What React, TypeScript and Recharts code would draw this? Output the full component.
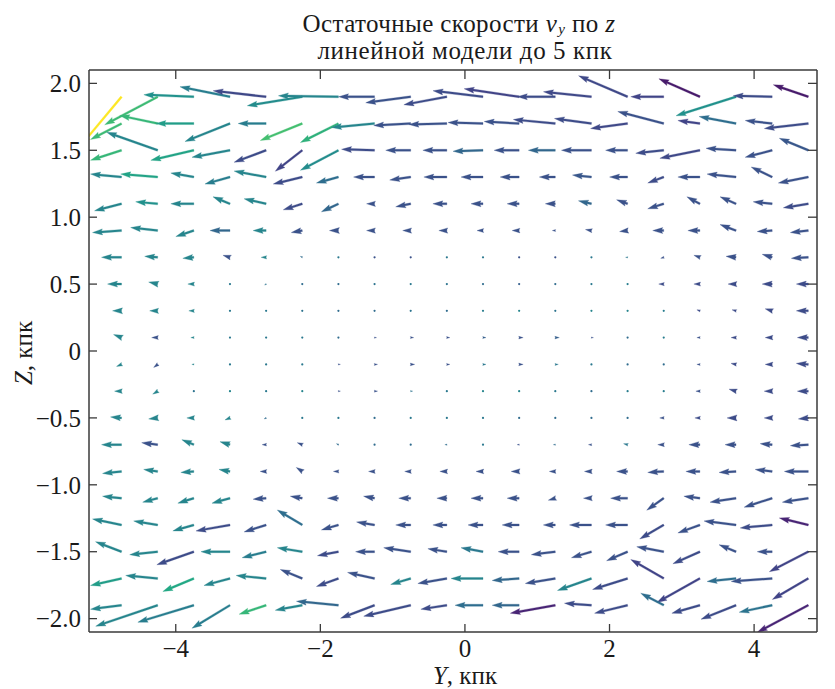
import React from 'react';
import { ScatterChart, Scatter, XAxis, YAxis, ReferenceLine, Customized } from 'recharts';

// ---- grid (Y columns, Z rows), kpc ----
const Y_COLS = [-4.75, -4.25, -3.75, -3.25, -2.75, -2.25, -1.75, -1.25, -0.75, -0.25, 0.25, 0.75, 1.25, 1.75, 2.25, 2.75, 3.25, 3.75, 4.25, 4.75];
const Z_ROWS = [1.9, 1.7, 1.5, 1.3, 1.1, 0.9, 0.7, 0.5, 0.3, 0.1, -0.1, -0.3, -0.5, -0.7, -0.9, -1.1, -1.3, -1.5, -1.7, -1.9];

// ---- residual velocity components (arbitrary units), one row per Z ----
const U_ROWS = [
  [-40, -53, -50, -50, -53, -55, -60, -36, -45, -43, -50, -55, -38, -48, -49, -33, -41, -60, -39, -35],
  [-31, -38, -38, -45, -28, -42, -38, -43, -37, -38, -35, -35, -42, -37, -37, -46, -22, -37, -27, -44],
  [-31, -51, -43, -38, -32, -27, -38, -33, -25, -24, -30, -25, -27, -30, -22, -28, -40, -30, -27, -29],
  [-31, -37, -23, -25, -32, -29, -22, -21, -21, -23, -22, -19, -16, -19, -18, -16, -22, -29, -21, -30],
  [-27, -22, -23, -17, -22, -19, -17, -8, -15, -14, -12, -12, -10, -13, -11, -16, -13, -16, -19, -25],
  [-29, -27, -18, -20, -13, -11, -9, -8, -8, -8, -6, -7, -3, -6, -8, -11, -12, -16, -15, -18],
  [-20, -13, -11, -7, -5, -2, -1, -1, -1, -1, -1, -1, -1, -1, -2, -3, -6, -10, -10, -17],
  [-14, -9, -6, -1, -1.5, -1, -1, -1, -1, -1, -1, -1, -1, -1, -1, -5, -6, -8, -10, -12],
  [-9, -8, -5, -1, -1, -1, 1, -1, -1, -1, -1, -1, -1, -1, -1, -1, -3, -4, -7, -12],
  [-8, -6, -3, -1, -1, -1, -1, 2, 3, 3, 3, 4, 4, 2, 1, -1, -3, -5, -7, -11],
  [-5, -4, -2, -1, -1, -1, 2, 3, 4, 3, 3, 4, 3, 1, -1, -1, -3, -5, -7, -12],
  [-7, -5, -1, -1, -1, -1, 2, 3, 2, 1, 1, 1, 1, 1, -1, -1, -4, -7, -8, -11],
  [-11, -9, -7, -5, -2, -1, -1, -1, -1, -1, -1, -1, -1, -1, -1, -4, -5, -9, -8, -10],
  [-20, -16, -12, -10, -4, -5, -2, -1, -1, -2, -1.5, -2, -2, -3, -4, -6, -11, -11, -12, -18],
  [-19, -14, -13, -11, -6, -6, -5, -6, -6, -7, -7, -8, -6, -7, -11, -16, -14, -17, -17, -24],
  [-19, -15, -16, -18, -13, -12, -11, -11, -12, -10, -12, -12, -7, -8, -17, -17, -16, -26, -28, -26],
  [-29, -24, -21, -34, -22, -25, -17, -18, -15, -14, -15, -17, -12, -22, -22, -24, -22, -32, -32, -29],
  [-26, -28, -37, -29, -24, -25, -21, -19, -27, -19, -22, -21, -24, -20, -21, -27, -27, -17, -15, -39],
  [-31, -32, -31, -26, -30, -22, -22, -27, -20, -29, -32, -27, -30, -34, -35, -33, -43, -29, -41, -36],
  [-31, -62, -56, -38, -27, -27, -42, -34, -47, -26, -28, -27, -45, -27, -33, -23, -28, -35, -33, -51],
];
const V_ROWS = [
  [-48, -28, 2, 10, 6, -9, 1, 0, -6, -8, 6, 8, 0, 5, 21, 0, 18, -19, 1, 12],
  [-16, 8, 0, -18, 0, -17, -19, -4, -2, -1, 1, 2, 4, 5, -5, 12, 3, 7, 3, -5],
  [-10, 18, -10, -7, -12, -21, -20, 1, 0, 0, -1, 0, 0, 0, 0, -3, -8, 2, -7, 12],
  [3, 3, 4, -7, 6, -7, -6, 0, -3, 0, 0, 0, 0, 2, 0, -6, 0, 3, 10, -6],
  [-7, 2, 0, 7, 5, -6, -8, 0, -3, 0, 0, 0, 0, 3, 4, -5, 7, 7, 2, -4],
  [-2, 3, -6, 0, 0, -2, 0, 0, 0, 0, 0, 0, 0, 1, -1, 0, 0, 6, -1, -2],
  [0, 1, -1, 2, 0, 1, 0, 0, 0, 0, 0, 0, 0, 0, 0, -1, 2, 1, 3, -1],
  [0, 2, 0, 0, -1, 0, 0, 0, 0, 0, 0, 0, 0, 0, 0, 0, 0, 0, 0, 0],
  [0, 0, 0, 0, 0, 0, 0, 0, 0, 0, 0, 0, 0, 0, 0, 0, 1, 1, 2, 0],
  [3, 0, 0, 0, 0, 0, 0, 0, 0, 0, 0, 0, 0, 0, 0, 0, 0, 0, 0, 0],
  [-2, -3, 0, 0, 0, 0, 0, 0, 0, 0, 0, 0, 0, 0, 0, 0, 0, 1, 0, 1],
  [0, -3, 0, 0, 0, 0, 0, 0, 0, 0, 0, 0, 0, 0, 0, 0, 0, 2, 0, 0],
  [1, -1, 0, -2, -1, 0, 0, 0, 0, 0, 0, 0, 0, 0, 0, 0, 0, 0, 0, -1],
  [0, 2, 5, 3, 0, 2, 1, 0, 0, 0, 0, 0, 0, 0, 1, 0, 0, 0, 1, -1],
  [-2, 2, -1, 2, 0, 4, 0, 0, 0, 0, 0, 0, 0, 0, 0, -1, 0, -1, 2, 0],
  [2, -4, -5, -5, -1, 2, 0, 2, 0, 0, 0, 0, -2, 0, 0, -12, 2, -4, -9, -4],
  [6, 4, -6, -6, -7, 15, -5, 3, 0, 0, 0, 0, 0, 0, 0, -14, -8, 4, -3, 7],
  [10, -3, -13, 0, -6, 4, -4, 0, 4, 3, 4, 0, -3, -6, -9, 5, -12, 7, 0, -20],
  [-7, 3, -13, -7, 3, 9, -8, 6, -6, -5, 0, -2, -5, -12, -11, 19, -24, -3, -3, -21],
  [-4, -21, -17, -23, -9, -5, 4, -13, -11, -4, 0, 0, -8, 2, -8, 12, -8, -14, -7, -27],
];
// colour value (0..1, viridis) per arrow
const C_ROWS = [
  [1.0, 0.68, 0.5, 0.42, 0.22, 0.48, 0.45, 0.25, 0.25, 0.23, 0.23, 0.2, 0.23, 0.22, 0.22, 0.2, 0.07, 0.5, 0.23, 0.07],
  [0.68, 0.66, 0.55, 0.45, 0.42, 0.7, 0.64, 0.45, 0.25, 0.25, 0.25, 0.25, 0.23, 0.23, 0.22, 0.25, 0.2, 0.36, 0.25, 0.23],
  [0.66, 0.45, 0.58, 0.45, 0.23, 0.2, 0.48, 0.23, 0.25, 0.25, 0.33, 0.25, 0.33, 0.25, 0.25, 0.23, 0.22, 0.25, 0.25, 0.27],
  [0.45, 0.58, 0.45, 0.42, 0.45, 0.23, 0.36, 0.25, 0.25, 0.25, 0.25, 0.25, 0.25, 0.27, 0.25, 0.23, 0.25, 0.25, 0.25, 0.25],
  [0.45, 0.5, 0.45, 0.45, 0.45, 0.23, 0.33, 0.25, 0.25, 0.25, 0.25, 0.25, 0.25, 0.33, 0.25, 0.25, 0.25, 0.25, 0.25, 0.23],
  [0.45, 0.45, 0.45, 0.33, 0.45, 0.25, 0.25, 0.25, 0.25, 0.25, 0.25, 0.25, 0.25, 0.25, 0.25, 0.25, 0.25, 0.25, 0.25, 0.25],
  [0.45, 0.45, 0.45, 0.25, 0.45, 0.35, 0.4, 0.25, 0.25, 0.4, 0.4, 0.25, 0.25, 0.4, 0.4, 0.25, 0.25, 0.25, 0.25, 0.25],
  [0.45, 0.45, 0.45, 0.4, 0.38, 0.35, 0.35, 0.38, 0.4, 0.38, 0.35, 0.3, 0.35, 0.4, 0.42, 0.23, 0.23, 0.23, 0.23, 0.23],
  [0.45, 0.45, 0.45, 0.4, 0.4, 0.38, 0.35, 0.35, 0.38, 0.35, 0.42, 0.45, 0.38, 0.45, 0.45, 0.42, 0.23, 0.23, 0.23, 0.23],
  [0.45, 0.25, 0.45, 0.4, 0.4, 0.4, 0.35, 0.25, 0.25, 0.25, 0.3, 0.25, 0.3, 0.25, 0.35, 0.42, 0.25, 0.23, 0.23, 0.23],
  [0.45, 0.25, 0.45, 0.4, 0.4, 0.4, 0.25, 0.25, 0.25, 0.25, 0.4, 0.25, 0.4, 0.4, 0.35, 0.35, 0.25, 0.23, 0.23, 0.23],
  [0.45, 0.45, 0.38, 0.45, 0.4, 0.45, 0.25, 0.25, 0.38, 0.4, 0.45, 0.45, 0.4, 0.35, 0.42, 0.42, 0.25, 0.23, 0.23, 0.23],
  [0.45, 0.45, 0.45, 0.45, 0.35, 0.4, 0.4, 0.35, 0.4, 0.4, 0.4, 0.35, 0.35, 0.35, 0.35, 0.25, 0.23, 0.23, 0.23, 0.23],
  [0.45, 0.25, 0.45, 0.45, 0.25, 0.25, 0.35, 0.35, 0.35, 0.35, 0.4, 0.25, 0.35, 0.25, 0.4, 0.25, 0.25, 0.25, 0.25, 0.25],
  [0.45, 0.45, 0.45, 0.45, 0.25, 0.25, 0.25, 0.25, 0.25, 0.25, 0.25, 0.25, 0.25, 0.25, 0.25, 0.25, 0.25, 0.25, 0.25, 0.25],
  [0.45, 0.45, 0.45, 0.45, 0.25, 0.25, 0.25, 0.25, 0.25, 0.25, 0.25, 0.25, 0.25, 0.25, 0.25, 0.25, 0.25, 0.25, 0.25, 0.25],
  [0.45, 0.45, 0.45, 0.23, 0.25, 0.36, 0.25, 0.25, 0.25, 0.25, 0.25, 0.25, 0.25, 0.25, 0.25, 0.23, 0.25, 0.25, 0.23, 0.1],
  [0.45, 0.45, 0.23, 0.45, 0.42, 0.45, 0.23, 0.25, 0.25, 0.25, 0.4, 0.25, 0.25, 0.25, 0.25, 0.25, 0.23, 0.25, 0.25, 0.2],
  [0.55, 0.45, 0.6, 0.45, 0.45, 0.25, 0.23, 0.25, 0.45, 0.25, 0.45, 0.33, 0.25, 0.45, 0.23, 0.2, 0.2, 0.36, 0.25, 0.2],
  [0.45, 0.45, 0.42, 0.42, 0.66, 0.45, 0.33, 0.23, 0.23, 0.23, 0.36, 0.33, 0.1, 0.23, 0.23, 0.36, 0.23, 0.23, 0.38, 0.1],
];

const X_TICKS = [-4, -2, 0, 2, 4];
const Y_TICKS = [-2, -1.5, -1, -0.5, 0, 0.5, 1, 1.5, 2];
const X_DOMAIN: [number, number] = [-5.2, 4.87];
const Y_DOMAIN: [number, number] = [-2.1, 2.1];

const TITLE_1 = 'Остаточные скорости ';
const TITLE_2 = 'линейной модели до 5 кпк';
const X_LABEL = 'Y';
const Y_LABEL = 'Z';
const UNIT = ', кпк';

// ---- layout ----
const W = 827;
const H = 681;
const MARGIN = { top: 61, right: 17, left: 0, bottom: 0 };
const YAXIS_W = 81;
const XAXIS_H = 57;
const TOP_H = 1;
const RIGHT_W = 1;
const PLOT_W = W - MARGIN.left - MARGIN.right - YAXIS_W - RIGHT_W;
const PLOT_H = H - MARGIN.top - MARGIN.bottom - XAXIS_H - TOP_H;
const PX_PER_Y = PLOT_W / (X_DOMAIN[1] - X_DOMAIN[0]);
const PX_PER_Z = PLOT_H / (Y_DOMAIN[1] - Y_DOMAIN[0]);
const QUIVER_PX_PER_UNIT = 1;

const FONT = '"Liberation Serif", "Times New Roman", serif';
const AXIS_COLOR = '#3a3a3a';
const TEXT_COLOR = '#1a1a1a';

const VIRIDIS = ['#440154', '#482475', '#414487', '#355f8d', '#2a788e', '#21918c', '#22a884', '#44bf70', '#7ad151', '#bddf26', '#fde725'];
function viridis(t: number): string {
  const v = Math.max(0, Math.min(1, t)) * 10;
  const i = Math.min(9, Math.floor(v));
  const f = v - i;
  const a = VIRIDIS[i], b = VIRIDIS[i + 1];
  const ch = (s: string, k: number) => parseInt(s.slice(1 + 2 * k, 3 + 2 * k), 16);
  const out = [0, 1, 2].map((k) => Math.round(ch(a, k) + (ch(b, k) - ch(a, k)) * f));
  return 'rgb(' + out.join(',') + ')';
}

const fmtNum = (v: number, digits: number) => {
  const s = v === 0 ? '0' : Math.abs(v).toFixed(digits);
  return v < 0 ? '\u2212' + s : s;
};

// quiver arrow (matplotlib-like geometry, pivot at tail)
const SHAFT = 2;
const HEAD_AXIS = 4.5 * SHAFT;
const HEAD_LEN = 5 * SHAFT;
const HEAD_HALF = 1.5 * SHAFT;

function makeArrow(color: string) {
  return (props: any) => {
    const { x1, y1, x2, y2, clipPath } = props;
    const dx = x2 - x1;
    const dy = y2 - y1;
    const L = Math.hypot(dx, dy);
    if (!isFinite(L)) return <g />;
    if (L < 1.6) {
      return <circle cx={x1} cy={y1} r={1.1} fill={color} clipPath={clipPath} />;
    }
    let pts: number[][];
    if (L >= HEAD_AXIS) {
      pts = [
        [0, -SHAFT / 2], [L - HEAD_AXIS, -SHAFT / 2], [L - HEAD_LEN, -HEAD_HALF], [L, 0],
        [L - HEAD_LEN, HEAD_HALF], [L - HEAD_AXIS, SHAFT / 2], [0, SHAFT / 2],
      ];
    } else {
      const s = L / HEAD_AXIS;
      pts = [
        [0, -SHAFT / 2], [HEAD_AXIS - HEAD_LEN, -HEAD_HALF], [HEAD_AXIS, 0],
        [HEAD_AXIS - HEAD_LEN, HEAD_HALF], [0, SHAFT / 2],
      ].map(([a, b]) => [a * s, b * s]);
    }
    const c = dx / L, sn = dy / L;
    const d = pts
      .map(([a, b], i) => (i === 0 ? 'M' : 'L') + (x1 + a * c - b * sn).toFixed(2) + ',' + (y1 + a * sn + b * c).toFixed(2))
      .join(' ') + ' Z';
    return <path d={d} fill={color} stroke={color} strokeWidth={0.3} clipPath={clipPath} />;
  };
}

const BottomTick = (props: any) => {
  const { x, y, payload } = props;
  return (
    <g>
      <line x1={x} y1={y} x2={x} y2={y - 8} stroke={AXIS_COLOR} strokeWidth={1.3} />
      <text x={x} y={y + 25} textAnchor="middle" fontSize={25} fontFamily={FONT} fill={TEXT_COLOR}>
        {fmtNum(payload.value, 0)}
      </text>
    </g>
  );
};
const LeftTick = (props: any) => {
  const { x, y, payload } = props;
  return (
    <g>
      <line x1={x} y1={y} x2={x + 8} y2={y} stroke={AXIS_COLOR} strokeWidth={1.3} />
      <text x={x - 8} y={y + 8.7} textAnchor="end" fontSize={25} fontFamily={FONT} fill={TEXT_COLOR}>
        {fmtNum(payload.value, 1)}
      </text>
    </g>
  );
};
const TopTick = (props: any) => {
  const { x, y } = props;
  return <line x1={x} y1={y} x2={x} y2={y + 9} stroke={AXIS_COLOR} strokeWidth={1.3} />;
};
const RightTick = (props: any) => {
  const { x, y } = props;
  return <line x1={x} y1={y} x2={x - 9} y2={y} stroke={AXIS_COLOR} strokeWidth={1.3} />;
};

const Texts = () => {
  return (
    <g fontFamily={FONT} fill={TEXT_COLOR}>
      <text x={451} y={23.5} textAnchor="middle" fontSize={25} letterSpacing={0.4}>
        {TITLE_1}
        <tspan fontStyle="italic">v</tspan>
        <tspan fontStyle="italic" fontSize={15} dx={1} dy={2}>y</tspan>
        <tspan dy={-2}> по </tspan>
        <tspan fontStyle="italic">z</tspan>
      </text>
      <text x={457} y={51} textAnchor="middle" fontSize={25} letterSpacing={0.6}>{TITLE_2}</text>
      <text x={457} y={676} textAnchor="middle" fontSize={25}>
        <tspan fontStyle="italic">{X_LABEL}</tspan>
        {UNIT}
      </text>
      <text x={24} y={345} textAnchor="middle" fontSize={25} transform="rotate(-90 24 345)">
        <tspan fontStyle="italic">{Y_LABEL}</tspan>
        {UNIT}
      </text>
    </g>
  );
};

const gridPoints = Z_ROWS.flatMap((z) => Y_COLS.map((y) => ({ y, z })));

export default function App() {
  const arrows: React.ReactNode[] = [];
  Z_ROWS.forEach((z, r) => {
    Y_COLS.forEach((yc, k) => {
      const u = U_ROWS[r][k];
      const v = V_ROWS[r][k];
      const color = viridis(C_ROWS[r][k]);
      const y2 = yc + (u * QUIVER_PX_PER_UNIT) / PX_PER_Y;
      const z2 = z + (v * QUIVER_PX_PER_UNIT) / PX_PER_Z;
      arrows.push(
        <ReferenceLine
          key={'a' + r + '_' + k}
          segment={[{ x: yc, y: z }, { x: y2, y: z2 }]}
          ifOverflow="hidden"
          shape={makeArrow(color)}
          stroke={color}
        />
      );
    });
  });

  return (
    <div style={{ width: W, height: H }}>
      <ScatterChart width={W} height={H} margin={MARGIN}>
        <XAxis
          dataKey="y"
          type="number"
          domain={X_DOMAIN}
          ticks={X_TICKS}
          allowDataOverflow
          height={XAXIS_H}
          tickSize={0}
          tickMargin={0}
          tick={<BottomTick />}
          axisLine={{ stroke: AXIS_COLOR, strokeWidth: 1.5 }}
          interval={0}
        />
        <XAxis
          xAxisId="top"
          orientation="top"
          dataKey="y"
          type="number"
          domain={X_DOMAIN}
          ticks={X_TICKS}
          allowDataOverflow
          height={TOP_H}
          tickSize={0}
          tickMargin={0}
          tick={<TopTick />}
          axisLine={{ stroke: AXIS_COLOR, strokeWidth: 1.5 }}
          interval={0}
        />
        <YAxis
          dataKey="z"
          type="number"
          domain={Y_DOMAIN}
          ticks={Y_TICKS}
          allowDataOverflow
          width={YAXIS_W}
          tickSize={0}
          tickMargin={0}
          tick={<LeftTick />}
          axisLine={{ stroke: AXIS_COLOR, strokeWidth: 1.5 }}
          interval={0}
        />
        <YAxis
          yAxisId="right"
          orientation="right"
          dataKey="z"
          type="number"
          domain={Y_DOMAIN}
          ticks={Y_TICKS}
          allowDataOverflow
          width={RIGHT_W}
          tickSize={0}
          tickMargin={0}
          tick={<RightTick />}
          axisLine={{ stroke: AXIS_COLOR, strokeWidth: 1.5 }}
          interval={0}
        />
        <Scatter data={gridPoints} isAnimationActive={false} shape={() => <g />} />
        <Scatter data={gridPoints} xAxisId="top" yAxisId="right" isAnimationActive={false} shape={() => <g />} />
        {arrows}
        <Customized component={Texts} />
      </ScatterChart>
    </div>
  );
}
